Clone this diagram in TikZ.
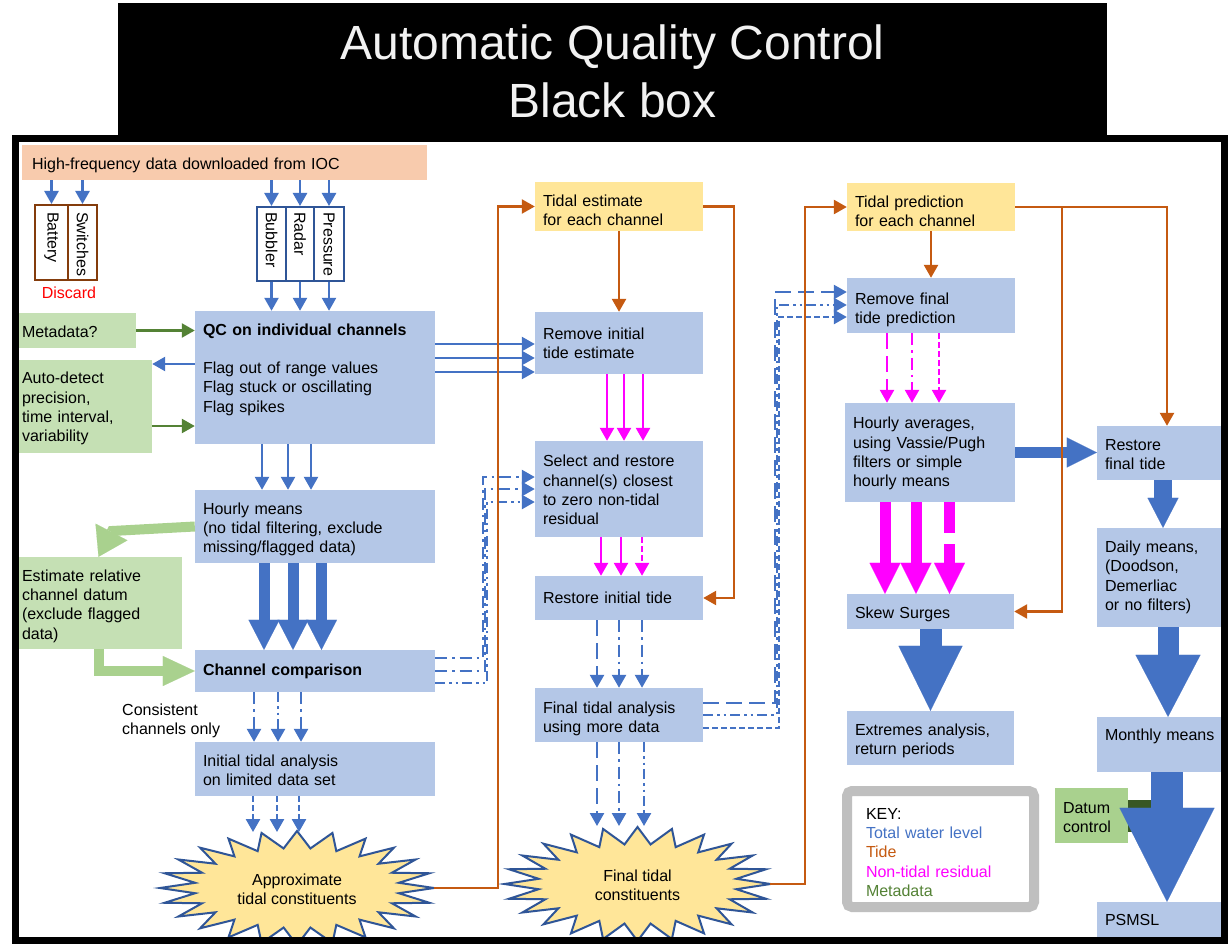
\documentclass[tikz,border=0pt]{standalone}
\usepackage{fontspec}
\setmainfont{Liberation Sans}
\usetikzlibrary{arrows.meta,calc}
\definecolor{boxblue}{HTML}{B4C7E7}
\definecolor{cblue}{HTML}{4472C4}
\definecolor{cdblue}{HTML}{2F5597}
\definecolor{corange}{HTML}{C55A11}
\definecolor{cmag}{HTML}{FF00FF}
\definecolor{cgreen}{HTML}{548235}
\definecolor{lgreen}{HTML}{C5E0B4}
\definecolor{mgreen}{HTML}{A9D18E}
\definecolor{dgreen}{HTML}{385723}
\definecolor{cyellow}{HTML}{FFE699}
\definecolor{cpeach}{HTML}{F8CBAD}
\definecolor{cbrown}{HTML}{843C0C}
\definecolor{keygray}{HTML}{BFBFBF}
\newcommand{\burst}[4]{\filldraw[fill=cyellow, draw=cdblue, line width=2pt]
  plot[samples=49, domain=0:48, variable=\k]
  ({#1+(#3*(1-0.25*mod(round(\k),2)))*cos(\k*7.5)}, {#2+(#4*(1-0.3*mod(round(\k),2)))*sin(\k*7.5)}) -- cycle;}
\begin{document}
\begin{tikzpicture}[x=1pt, y=-1pt,
 every node/.style={font=\fontsize{16}{19.3}\selectfont, text=black},
 ttl/.style={text=white!95!black, font=\fontsize{48}{58}\selectfont, inner sep=0pt},
 bx/.style={fill=boxblue, inner xsep=8pt, inner ysep=0pt, align=left},
 gbx/.style={fill=lgreen, inner xsep=7pt, inner ysep=0pt, align=left},
 ybx/.style={fill=cyellow, inner xsep=8pt, inner ysep=0pt, align=left},
 dn/.style={execute at begin node={\rule{0pt}{#1pt}}},
 vbx/.style={draw=#1, line width=2pt, fill=white, inner sep=0pt},
 vlab/.style={rotate=-90, anchor=west, inner sep=0pt},
 arr/.style={-{Triangle[width=14pt,length=13pt]}},
 blarr/.style={draw=cblue, line width=2.5pt, arr},
 orarr/.style={draw=corange, line width=2.5pt, arr},
 mgarr/.style={draw=cmag, line width=2.5pt, arr},
 grarr/.style={draw=cgreen, line width=2.5pt, arr},
 pLong/.style={dash pattern=on 16pt off 7pt},
 pDot/.style={dash pattern=on 12pt off 5pt on 2.5pt off 5pt},
 pDDot/.style={dash pattern=on 10pt off 4pt on 2.5pt off 4pt on 2.5pt off 4pt},
 pShort/.style={dash pattern=on 6pt off 3pt},
 fat/.style n args={4}{draw=#1, line width=#2, -{Triangle[width=#3,length=#4,line width=0.1pt]}}
]
\useasboundingbox (0,0) rectangle (1228,944);
\clip (0,0) rectangle (1228,944);
\fill[white] (0,0) rectangle (1228,944);

% title
\node[fill=black, minimum width=989pt, minimum height=133pt, inner sep=0pt] (title) at (612.5,69.5) {};
\node[ttl, anchor=base] (t1) at (612.5,60) {Automatic Quality Control};
\node[ttl, anchor=base] (t2) at (612.5,118) {Black box};

% source
\node[fill=cpeach, inner xsep=10pt, inner ysep=0pt, align=left, minimum width=405pt, text width=385pt, minimum height=35pt, dn=17.7] (src) at (224.5,162.5) {High-frequency data downloaded from IOC};

% sensor strips
\node[vbx=cbrown, minimum width=33pt, minimum height=75pt] (bat) at (51.5,242.5) {};
\node[vbx=cbrown, minimum width=29pt, minimum height=75pt] (sw) at (82.5,242.5) {};
\node[vbx=cdblue, minimum width=29pt, minimum height=74pt] (bub) at (271.5,244) {};
\node[vbx=cdblue, minimum width=28pt, minimum height=74pt] (rad) at (300,244) {};
\node[vbx=cdblue, minimum width=30pt, minimum height=74pt] (pre) at (329,244) {};
\node[vlab] (batl) at ($(bat.north)+(0,8)$) {Battery};
\node[vlab] (swl) at ($(sw.north)+(0,8)$) {Switches};
\node[vlab] (bubl) at ($(bub.north)+(0,6)$) {Bubbler};
\node[vlab] (radl) at ($(rad.north)+(0,6)$) {Radar};
\node[vlab] (prel) at ($(pre.north)+(0,6)$) {Pressure};
\node[text=red] (disc) at (69,293) {Discard};

% left column
\node[gbx, minimum width=121pt, text width=107pt, minimum height=35pt, dn=13.7] (meta) at (75.5,330.5) {Metadata?};
\node[gbx, minimum width=137pt, text width=123pt, minimum height=93pt, dn=15.7] (auto) at (83.5,406.5) {Auto-detect\\precision,\\time interval,\\variability};
\node[gbx, minimum width=167pt, text width=153pt, minimum height=92pt, dn=17.7] (est) at (98.5,603) {Estimate relative\\channel datum\\(exclude flagged\\data)};

\node[bx, minimum width=240pt, text width=224pt, minimum height=133pt] (qc) at (315,377.5) {\textbf{QC on individual channels}\\\mbox{}\\Flag out of range values\\Flag stuck or oscillating\\Flag spikes\\\mbox{}};
\node[bx, minimum width=240pt, text width=224pt, minimum height=73pt, dn=17.7] (hourly) at (315,526.5) {Hourly means\\(no tidal filtering, exclude\\missing/flagged data)};
\node[bx, minimum width=240pt, text width=224pt, minimum height=42pt] (chcomp) at (315,671) {\textbf{Channel comparison}};
\node[bx, minimum width=240pt, text width=224pt, minimum height=54pt, dn=13.7] (initial) at (315,769) {Initial tidal analysis\\on limited data set};
\node[anchor=west, align=left, inner sep=0pt] (cons) at (122,721) {Consistent\\channels only};

% middle column
\node[ybx, minimum width=168pt, text width=152pt, minimum height=49pt, dn=19.7] (tidest) at (619,206.5) {Tidal estimate\\for each channel};
\node[bx, minimum width=168pt, text width=152pt, minimum height=62pt] (reminit) at (619,343) {Remove initial\\tide estimate};
\node[bx, minimum width=168pt, text width=152pt, minimum height=96pt, dn=13.7] (select) at (619,489) {Select and restore\\channel(s) closest\\to zero non-tidal\\residual};
\node[bx, minimum width=168pt, text width=152pt, minimum height=44pt] (restinit) at (619,598) {Restore initial tide};
\node[bx, minimum width=168pt, text width=152pt, minimum height=54pt, dn=19.7] (finalan) at (619,715) {Final tidal analysis\\using more data};

% right-middle column
\node[ybx, minimum width=168pt, text width=152pt, minimum height=48pt, dn=19.7] (tidpred) at (931,207) {Tidal prediction\\for each channel};
\node[bx, minimum width=168pt, text width=152pt, minimum height=55pt, dn=19.7] (remfinal) at (931,305.5) {Remove final\\tide prediction};
\node[bx, minimum width=170pt, text width=154pt, minimum height=99pt, dn=13.7] (hourlyav) at (930,452.5) {Hourly averages,\\using Vassie/Pugh\\filters or simple\\hourly means};
\node[bx, minimum width=167pt, text width=151pt, minimum height=35pt, dn=17.7] (skew) at (930.5,611.5) {Skew Surges};
\node[bx, minimum width=167pt, text width=151pt, minimum height=54pt, dn=17.7] (extremes) at (930.5,738) {Extremes analysis,\\return periods};

% right column
\node[bx, minimum width=140pt, text width=124pt, minimum height=54pt, dn=13.7] (restfinal) at (1167,453) {Restore\\final tide};
\node[bx, minimum width=140pt, text width=124pt, minimum height=99pt] (daily) at (1167,577.5) {Daily means,\\(Doodson,\\Demerliac\\or no filters)};
\node[bx, minimum width=140pt, text width=124pt, minimum height=55pt] (monthly) at (1167,744.5) {Monthly means\\\mbox{}};
\node[bx, minimum width=140pt, text width=124pt, minimum height=35pt] (psmsl) at (1167,919.5) {PSMSL};
\node[fill=mgreen, inner xsep=8pt, inner ysep=0pt, align=left, minimum width=73pt, text width=57pt, minimum height=55pt, dn=15.7] (datum) at (1091.5,815.5) {Datum\\control};

% key
\node[draw=keygray, line width=10pt, rounded corners=5pt, fill=white, minimum width=187pt, minimum height=116pt, text width=149pt, inner xsep=19pt, inner ysep=0pt, align=left, dn=17.7] (key) at (940.5,849) {KEY:\\\textcolor{cblue}{Total water level}\\\textcolor{corange}{Tide}\\\textcolor{cmag}{Non-tidal residual}\\\textcolor{cgreen}{Metadata}};

% starbursts
\burst{297}{888}{137}{57}
\node[align=center, inner sep=0pt] (approx) at (297,889) {Approximate\\tidal constituents};
\burst{637.5}{884}{133}{57}
\node[align=center, inner sep=0pt] (final) at (637.5,885) {Final tidal\\constituents};
\coordinate (aR) at (434,888);
\coordinate (atop) at (297,832);
\coordinate (fR) at (770,884);
\coordinate (ftop) at (637.5,826);

% ---- connectors: total water level (blue)
\foreach \n in {bat,sw,bub,rad,pre} \draw[blarr] (\n.north |- src.south) -- (\n.north);
\foreach \n in {bub,rad,pre} \draw[blarr] (\n.south) -- (\n.south |- qc.north);
\draw[blarr] (qc.west |- 0,364) -- (auto.east |- 0,364);
\foreach \dx in {-53,-27,-4} \draw[blarr] ($(qc.south)+(\dx,0)$) -- ($(qc.south |- hourly.north)+(\dx,0)$);
\foreach \dx in {-51,-22,6.5} \draw[fat={cblue}{11pt}{31pt}{30pt}] ($(hourly.south)+(\dx,0)$) -- ($(hourly.south |- chcomp.north)+(\dx,0)$);
\foreach \y in {344,358,372} \draw[blarr] (qc.east |- 0,\y) -- (reminit.west |- 0,\y);

\draw[blarr,pDot] ($(chcomp.east)+(0,-13)$) -| ($(select.west)+(-52,-12)$) -- ($(select.west)+(0,-12)$);
\draw[blarr,pDot] (chcomp.east) -| ($(select.west)+(-50,0)$) -- (select.west);
\draw[blarr,pDDot] ($(chcomp.east)+(0,12)$) -| ($(select.west)+(-48,13)$) -- ($(select.west)+(0,13)$);

\foreach \dx/\s in {-61/pDot,-37/pDDot,-14/pDot} \draw[blarr,\s] ($(chcomp.south)+(\dx,0)$) -- ($(chcomp.south |- initial.north)+(\dx,0)$);
\foreach \dx in {-62,-38,-16} \draw[blarr,pShort] ($(initial.south)+(\dx,0)$) -- ($(initial.south |- atop)+(\dx,0)$);

\foreach \dx/\s in {-22/pLong,0/pDot,23/pDot} \draw[blarr,\s] ($(restinit.south)+(\dx,0)$) -- ($(restinit.south |- finalan.north)+(\dx,0)$);
\foreach \dx/\s in {-22/pLong,0/pDot,25/pDDot} \draw[blarr,\s] ($(finalan.south)+(\dx,0)$) -- ($(finalan.south |- ftop)+(\dx,0)$);

\draw[blarr,pLong] ($(finalan.east)+(0,-12)$) -| ($(remfinal.west)+(-72,-13.5)$) -- ($(remfinal.west)+(0,-13.5)$);
\draw[blarr,pDDot] (finalan.east) -| ($(remfinal.west)+(-70,-0.5)$) -- ($(remfinal.west)+(0,-0.5)$);
\draw[blarr,pShort] ($(finalan.east)+(0,13)$) -| ($(remfinal.west)+(-68,11.5)$) -- ($(remfinal.west)+(0,11.5)$);

\draw[fat={cblue}{11pt}{30pt}{30pt}] (hourlyav.east) -- (hourlyav.east -| restfinal.west);
\draw[fat={cblue}{22pt}{64pt}{65pt}] (skew.south) -- (extremes.north);
\draw[fat={cblue}{18pt}{31pt}{30pt}] ($(restfinal.south)+(-4,0)$) -- ($(restfinal.south |- daily.north)+(-4,0)$);
\draw[fat={cblue}{21pt}{65pt}{62pt}] ($(daily.south)+(1,0)$) -- ($(daily.south |- monthly.north)+(1,0)$);
\draw[dgreen, line width=32pt] (datum.east) -- ++(30,0);
\draw[fat={cblue}{32pt}{95pt}{94pt}] (monthly.south) -- (psmsl.north);

% ---- metadata (green)
\draw[grarr] (meta.east) -- (meta.east -| qc.west);
\draw[grarr] (auto.east |- 0,426) -- (qc.west |- 0,426);
\draw[draw=mgreen, line width=10pt, -{Triangle[width=36pt,length=28pt,line width=0.1pt]}] (hourly.west) -- (112,531) -- (est.north);
\draw[draw=mgreen, line width=10pt, -{Triangle[width=30pt,length=32pt,line width=0.1pt]}] (est.south) |- (chcomp.west);

% ---- non-tidal residual (magenta)
\foreach \dx in {-12,5,24} \draw[mgarr] ($(reminit.south)+(\dx,0)$) -- ($(reminit.south |- select.north)+(\dx,0)$);
\foreach \dx/\s in {-18/solid,2/solid,23/pShort} \draw[mgarr,\s] ($(select.south)+(\dx,0)$) -- ($(select.south |- restinit.north)+(\dx,0)$);
\foreach \dx/\s in {-44/pLong,-19/pDot,8/pShort} \draw[mgarr,\s] ($(remfinal.south)+(\dx,0)$) -- ($(remfinal.south |- hourlyav.north)+(\dx,0)$);
\draw[fat={cmag}{11pt}{31pt}{31pt}] ($(hourlyav.south)+(-45,0)$) -- ($(hourlyav.south |- skew.north)+(-45,0)$);
\draw[fat={cmag}{11pt}{31pt}{31pt}] ($(hourlyav.south)+(-14,0)$) -- ($(hourlyav.south |- skew.north)+(-14,0)$);
\draw[fat={cmag}{11pt}{31pt}{31pt}, dash pattern=on 31pt off 11pt on 300pt off 1pt] ($(hourlyav.south)+(19.5,0)$) -- ($(hourlyav.south |- skew.north)+(19.5,0)$);

% ---- tide (orange)
\draw[orarr] (aR) -- ++(64,0) |- (tidest.west);
\draw[orarr] (tidest.south) -- (reminit.north);
\draw[orarr] (tidest.east) -- ++(31,0) |- (restinit.east);
\draw[orarr] (fR) -- ++(35,0) |- (tidpred.west);
\draw[orarr] (tidpred.south) -- (remfinal.north);
\draw[orarr] (tidpred.east) -| (restfinal.north);
\draw[orarr] ($(tidpred.east)+(47,0)$) |- (skew.east);

% frame
\draw[line width=7pt] (15.5,139) rectangle (1224.5,940.5);
\end{tikzpicture}
\end{document}
